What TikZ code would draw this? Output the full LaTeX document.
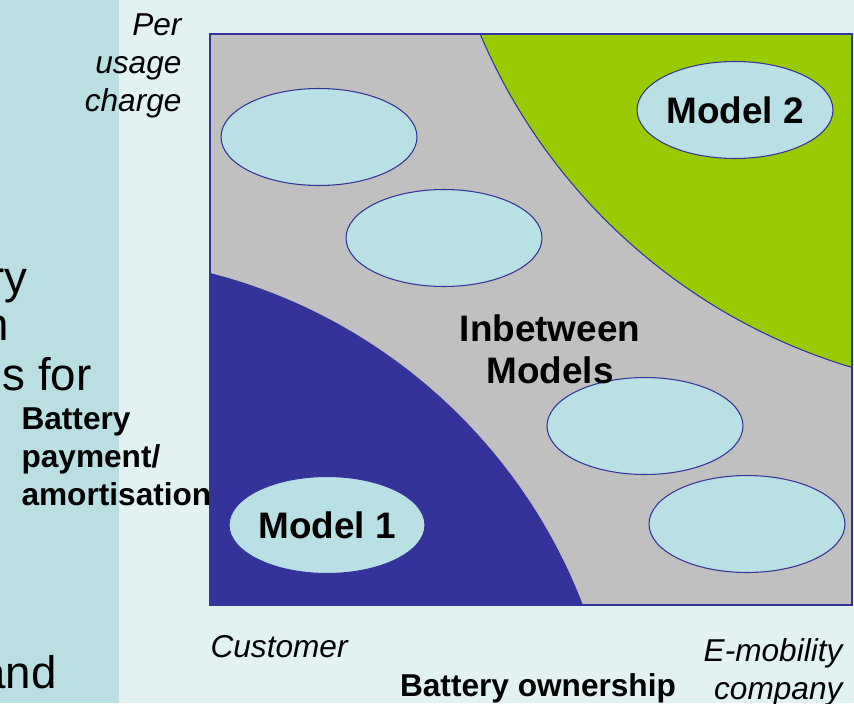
\documentclass[tikz,border=0pt]{standalone}
\usepackage{fontspec}
\setmainfont{Liberation Sans}
\usetikzlibrary{shapes.geometric}
\definecolor{stripbg}{RGB}{185,223,227}
\definecolor{paperbg}{RGB}{226,242,243}
\definecolor{fieldgrey}{RGB}{192,192,192}
\definecolor{modelblue}{RGB}{51,51,153}
\definecolor{modelgreen}{RGB}{153,204,0}
\definecolor{ovalfill}{RGB}{185,224,228}

\begin{document}
\begin{tikzpicture}[x=0.02cm,y=-0.02cm,line width=0.6pt,
	oval node/.style={ellipse, draw=modelblue, fill=ovalfill, inner sep=0pt, minimum width=3.92cm, minimum height=1.94cm, font=\fontsize{21}{24}\selectfont\bfseries},
	axis label/.style={inner sep=0pt, font=\fontsize{18}{21.6}\selectfont\itshape},
	axis title/.style={inner sep=0pt, font=\fontsize{18}{21.8}\selectfont\bfseries},
	big text/.style={inner sep=0pt, font=\fontsize{26}{30}\selectfont}]
			\useasboundingbox (0,0) rectangle (854,703);
			\clip (0,0) rectangle (854,703);
			% Background
			\fill[stripbg] (0,0) rectangle (119,703);
			\fill[paperbg] (119,0) rectangle (854,703);
			
			% Field with the two corner regions
			\fill[fieldgrey] (210,34) rectangle (852,605);
			\begin{scope}
				\clip (210,34) rectangle (852,605);
				\fill[modelblue] (75,800) circle[radius=10.88cm];
				\filldraw[fill=modelgreen, draw=modelblue] (1020,-194) circle[radius=11.72cm];
			\end{scope}
			\draw[modelblue] (210,34) rectangle (852,605);
			
			% Nodes
			\node[oval node] (m1) at (327,525) {Model 1};
			\node[oval node] (m2) at (735,110) {Model 2};
			\node[oval node] (o1) at (319,137) {};
			\node[oval node] (o2) at (444,238) {};
			\node[oval node] (o3) at (645,426) {};
			\node[oval node] (o4) at (747,524) {};
			\node[inner sep=0pt, align=center, font=\fontsize{21}{23.8}\selectfont\bfseries] (mid) at (550,349) {Inbetween\\Models};
			
			% Axis labels
			\node[axis label, align=right, anchor=north east] (charge) at (182,13) {Per\\usage\\charge};
			\node[axis title, align=left, anchor=north west] (pay) at (21,407) {Battery\\payment/\\amortisation};
			\node[axis label, anchor=base west] (cust) at (210,657) {Customer};
			\node[axis label, align=right, anchor=north east] (emob) at (843,638) {E-mobility\\company};
			\node[axis title, anchor=base] (own) at (538,696) {Battery ownership};
			
			% Text running in from the left
			\node[big text, anchor=base east] (t1) at (28,293) {ry};
			\node[big text, anchor=base east] (t2) at (9,340) {n};
			\node[big text, anchor=base east] (t3) at (92,390) {s for};
			\node[big text, anchor=base east] (t4) at (57,688) {and};
\end{tikzpicture}
\end{document}
